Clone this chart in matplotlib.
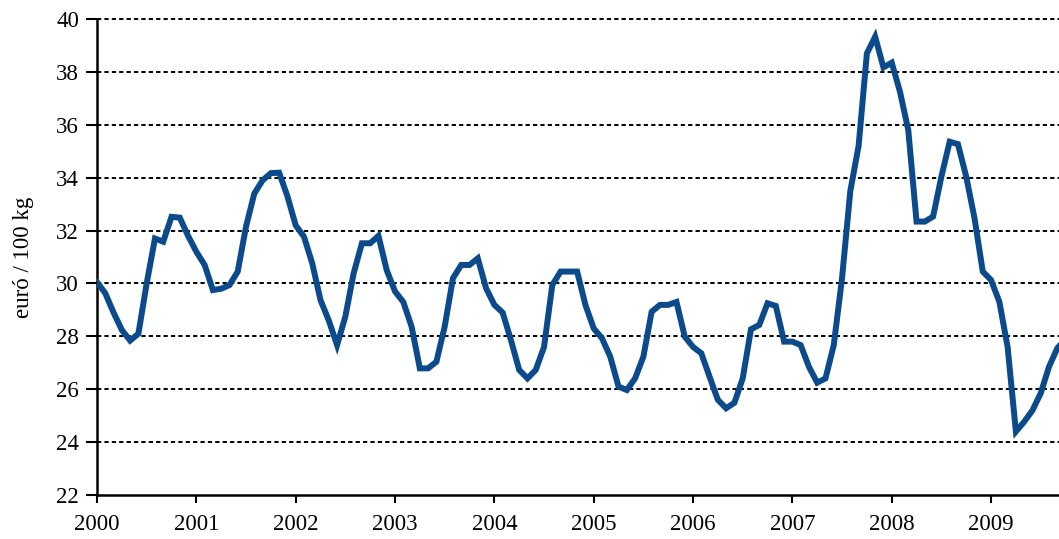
import matplotlib.pyplot as plt
import numpy as np

plt.rcParams['font.family'] = ['Liberation Serif', 'DejaVu Serif']

# monthly prices, euro / 100 kg, Jan 2000 onwards
prices_2000 = [30.05, 29.63, 28.9, 28.24, 27.84, 28.1, 30.0, 31.7, 31.58, 32.52, 32.49, 31.8]
prices_2001 = [31.2, 30.7, 29.75, 29.8, 29.94, 30.45, 32.15, 33.4, 33.9, 34.17, 34.19, 33.3]
prices_2002 = [32.2, 31.77, 30.76, 29.37, 28.6, 27.67, 28.75, 30.38, 31.52, 31.52, 31.8, 30.5]
prices_2003 = [29.7, 29.3, 28.37, 26.79, 26.79, 27.04, 28.37, 30.2, 30.7, 30.7, 30.95, 29.82]
prices_2004 = [29.19, 28.9, 27.86, 26.73, 26.41, 26.73, 27.6, 29.94, 30.45, 30.45, 30.45, 29.19]
prices_2005 = [28.3, 27.93, 27.23, 26.1, 25.97, 26.41, 27.23, 28.93, 29.19, 29.19, 29.3, 27.99]
prices_2006 = [27.6, 27.36, 26.47, 25.6, 25.28, 25.49, 26.41, 28.27, 28.43, 29.25, 29.15, 27.8]
prices_2007 = [27.8, 27.67, 26.85, 26.25, 26.41, 27.67, 30.2, 33.5, 35.2, 38.7, 39.33, 38.17]
prices_2008 = [38.35, 37.25, 35.8, 32.34, 32.34, 32.53, 34.04, 35.36, 35.27, 34.04, 32.47, 30.45]
prices_2009 = [30.13, 29.31, 27.6, 24.4, 24.77, 25.2, 25.85, 26.85, 27.55, 27.9]

prices = (prices_2000 + prices_2001 + prices_2002 + prices_2003 + prices_2004
          + prices_2005 + prices_2006 + prices_2007 + prices_2008 + prices_2009)
years = np.arange(2000, 2010)
t = 2000 + np.arange(len(prices)) / 12.0

fig = plt.figure(figsize=(10.59, 5.39), dpi=100)
ax = fig.add_axes([0.0916, 0.0816, 0.9084, 0.8831])

ax.plot(t, prices, color='#0b4a8b', linewidth=4.3, solid_joinstyle='miter', zorder=3)

ax.set_xlim(2000, 2009.684)
ax.set_ylim(22, 40)
ax.set_yticks(np.arange(22, 41, 2))
ax.set_xticks(years)
ax.set_xticklabels([str(y) for y in years])

for yv in np.arange(24, 41, 2):
    ax.axhline(yv, color='black', linewidth=1.4, linestyle=(0, (2.2, 1.6)),
               zorder=1, clip_on=False)

for s in ['top', 'right']:
    ax.spines[s].set_visible(False)
for s in ['left', 'bottom']:
    ax.spines[s].set_linewidth(1.8)

ax.tick_params(axis='both', direction='out', width=1.5, labelsize=16.5)
ax.tick_params(axis='x', length=6, pad=8)
ax.tick_params(axis='y', length=8, pad=5)
ax.set_ylabel('euró / 100 kg', fontsize=16.5, labelpad=16)

fig.savefig('out.png', dpi=100)
